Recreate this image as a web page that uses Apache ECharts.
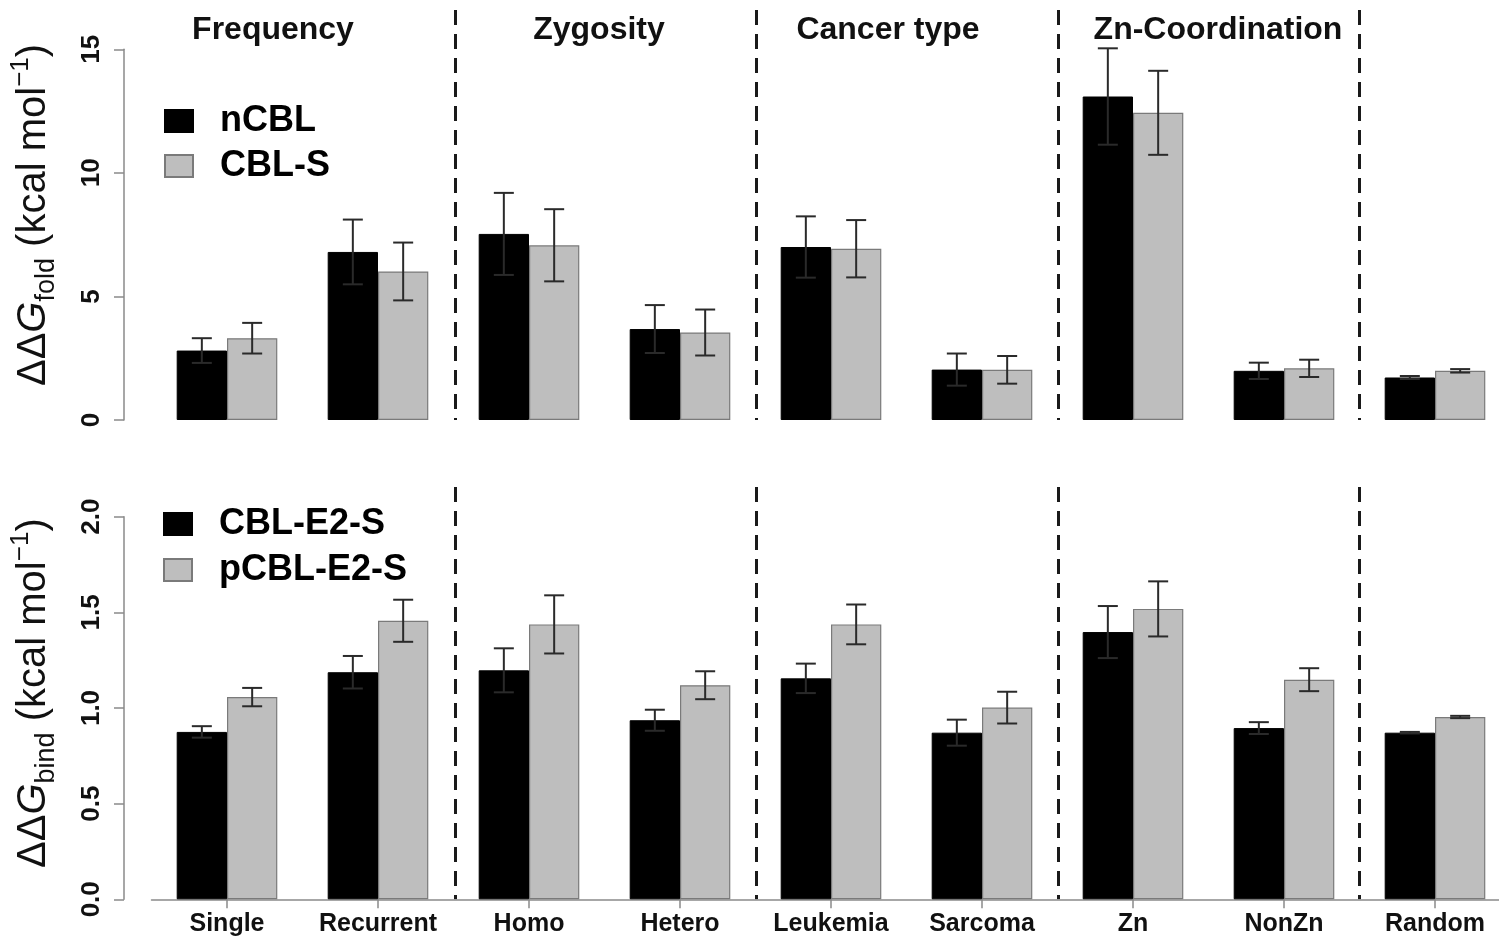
<!DOCTYPE html>
<html><head><meta charset="utf-8">
<script src="https://cdn.jsdelivr.net/npm/echarts@6/dist/echarts.min.js"></script>
<style>html,body{margin:0;padding:0;background:#fff;overflow:hidden}#c{width:1530px;height:940px}</style>
</head><body><div id="c"></div>
<script>
const categories = ['Single','Recurrent','Homo','Hetero','Leukemia','Sarcoma','Zn','NonZn','Random'];
const sections = ['Frequency','Zygosity','Cancer type','Zn-Coordination'];
const sectionX = [273, 599, 888, 1218];
const foldTicks = [0, 5, 10, 15];
const bindTicks = [0.0, 0.5, 1.0, 1.5, 2.0];
const foldN    = [2.81, 6.80, 7.53, 3.68, 7.00, 2.04, 13.09, 1.99, 1.72];
const foldNErr = [0.50, 1.31, 1.66, 0.97, 1.24, 0.65, 1.95, 0.33, 0.06];
const foldS    = [3.31, 6.01, 7.07, 3.54, 6.93, 2.03, 12.43, 2.09, 1.99];
const foldSErr = [0.62, 1.17, 1.46, 0.93, 1.16, 0.56, 1.70, 0.35, 0.07];
const bindN    = [0.875, 1.187, 1.197, 0.936, 1.155, 0.871, 1.397, 0.895, 0.871];
const bindNErr = [0.030, 0.085, 0.115, 0.055, 0.077, 0.068, 0.136, 0.031, 0.004];
const bindS    = [1.057, 1.456, 1.437, 1.119, 1.437, 1.002, 1.518, 1.148, 0.953];
const bindSErr = [0.048, 0.110, 0.152, 0.073, 0.104, 0.083, 0.144, 0.060, 0.006];

const FONT = 'Liberation Sans';
const chart = echarts.init(document.getElementById('c'));
const GL = 151.5, GW = 1359, YOFF = 27.5;
const grids = [
  {left: GL, width: GW, top: 49.3, height: 370.7},   // top data
  {left: GL, width: GW, top: 10, height: 410},       // top overlay
  {left: GL, width: GW, top: 516.7, height: 382.6},  // bottom data
  {left: GL, width: GW, top: 487, height: 412.3}     // bottom overlay
];
const dashedBoundary = (idx) => idx === 2 || idx === 4 || idx === 6 || idx === 8;
function overlayX(gi){
  return {type:'category', gridIndex: gi, data: categories, boundaryGap: true,
    axisLine:{show:false}, axisTick:{show:false}, axisLabel:{show:false},
    splitLine:{show:true, interval: dashedBoundary, lineStyle:{color:'#1a1a1a', width:3, type:[15,9]}}};
}
const nameRich = {
  n:{fontSize:40, fontFamily:FONT, color:'#111', lineHeight:52},
  i:{fontSize:40, fontFamily:FONT, fontStyle:'italic', color:'#111', lineHeight:52},
  sub:{fontSize:27, fontFamily:FONT, color:'#111', lineHeight:30, verticalAlign:'bottom'},
  sup:{fontSize:26, fontFamily:FONT, color:'#111', lineHeight:30, verticalAlign:'top'}
};
function overlayY(gi, sub){
  return {type:'value', gridIndex: gi, min:0, max:1, offset: YOFF,
    axisLine:{show:false}, axisTick:{show:false}, axisLabel:{show:false}, splitLine:{show:false},
    name: '{n|ΔΔ}{i|G}{sub|' + sub + '}{n| (kcal mol}{sup|−1}{n|)}',
    nameLocation:'middle', nameRotate:90, nameGap:66,
    nameTextStyle:{rich:nameRich}};
}
function dataY(gi, ticks, fmt){
  return {type:'value', gridIndex: gi, min: ticks[0], max: ticks[ticks.length-1],
    interval: ticks[1]-ticks[0], offset: YOFF,
    axisLine:{show:true, lineStyle:{color:'#8a8a8a', width:1.5}},
    axisTick:{show:true, length:10, lineStyle:{color:'#8a8a8a', width:1.5}},
    axisLabel:{rotate:90, margin:19, fontSize:26, fontWeight:'bold', fontFamily:FONT, color:'#111', formatter: fmt},
    splitLine:{show:false}};
}
function errSeries(name, xi, yi, vals, errs, side){
  return {type:'custom', name: name + ' err', xAxisIndex: xi, yAxisIndex: yi, z: 10,
    data: vals.map((v,k)=>[k, v, errs[k]]),
    encode:{x:0, y:1},
    renderItem: function(params, api){
      const x = api.value(0), v = api.value(1), e = api.value(2);
      const band = api.size([1,0])[0];
      const off = side * band/6;
      const hi = api.coord([x, v+e]), lo = api.coord([x, v-e]);
      const cx = hi[0] + off, hw = 10;
      const st = {stroke:'#2a2a2a', lineWidth:2};
      return {type:'group', children:[
        {type:'line', shape:{x1:cx, y1:hi[1], x2:cx, y2:lo[1]}, style:st},
        {type:'line', shape:{x1:cx-hw, y1:hi[1], x2:cx+hw, y2:hi[1]}, style:st},
        {type:'line', shape:{x1:cx-hw, y1:lo[1], x2:cx+hw, y2:lo[1]}, style:st}
      ]};
    }};
}
function barSeries(name, xi, yi, vals, grey){
  return {type:'bar', name, xAxisIndex: xi, yAxisIndex: yi, data: vals, barWidth: 50.3, barGap:'0%',
    itemStyle: grey ? {color:'#bebebe', borderColor:'#7a7a7a', borderWidth:1.2}
                    : {color:'#000', borderColor:'#000', borderWidth:1},
    emphasis:{disabled:true}};
}
const legendText = {fontSize:36, fontWeight:'bold', fontFamily:FONT, color:'#000', lineHeight:36, padding:[0,0,0,22]};
const option = {
  animation:false,
  backgroundColor:'#fff',
  grid: grids,
  xAxis: [
    {type:'category', gridIndex:0, data: categories, show:false},
    overlayX(1),
    {type:'category', gridIndex:2, data: categories, boundaryGap:true,
      axisLine:{show:true, lineStyle:{color:'#8a8a8a', width:1.5}},
      axisTick:{show:true, alignWithLabel:true, length:9, lineStyle:{color:'#8a8a8a', width:1.5}},
      axisLabel:{margin:12, fontSize:25, fontWeight:'bold', fontFamily:FONT, color:'#111', interval:0},
      splitLine:{show:false}},
    overlayX(3)
  ],
  yAxis: [
    dataY(0, foldTicks, v => String(v)),
    overlayY(1, 'fold'),
    dataY(2, bindTicks, v => v.toFixed(1)),
    overlayY(3, 'bind')
  ],
  legend: [
    {data:['nCBL','CBL-S'], orient:'vertical', left:159, top:98, itemWidth:28, itemHeight:22, itemGap:9,
      icon:'rect', textStyle: legendText, selectedMode:false},
    {data:['CBL-E2-S','pCBL-E2-S'], orient:'vertical', left:158, top:501, itemWidth:28, itemHeight:22, itemGap:10,
      icon:'rect', textStyle: legendText, selectedMode:false}
  ],
  graphic: sections.map((s,k)=>({type:'text', x: sectionX[k], y: 30,
    style:{text:s, x:0, y:0, align:'center', verticalAlign:'middle', font:'bold 32px "Liberation Sans"', fill:'#111'}})),
  series: [
    barSeries('nCBL', 0, 0, foldN, false),
    barSeries('CBL-S', 0, 0, foldS, true),
    errSeries('nCBL', 0, 0, foldN, foldNErr, -1),
    errSeries('CBL-S', 0, 0, foldS, foldSErr, 1),
    barSeries('CBL-E2-S', 2, 2, bindN, false),
    barSeries('pCBL-E2-S', 2, 2, bindS, true),
    errSeries('CBL-E2-S', 2, 2, bindN, bindNErr, -1),
    errSeries('pCBL-E2-S', 2, 2, bindS, bindSErr, 1)
  ]
};
chart.setOption(option);
</script></body></html>
